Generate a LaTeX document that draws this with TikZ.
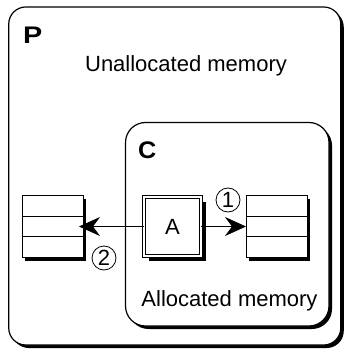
\documentclass[tikz,border=0pt]{standalone}
\usepackage{fontspec}
\setmainfont{Liberation Sans}
\usetikzlibrary{shadows,arrows.meta,calc}

\begin{document}
\begin{tikzpicture}[
    x=1pt, y=-1pt,
    every node/.style={font=\fontsize{22}{26}\selectfont, inner sep=0pt, outer sep=0pt},
    shadowed/.style={drop shadow={shadow xshift=#1, shadow yshift=-#1, fill=black, opacity=1}},
    shadowed/.default=3pt,
    region/.style={draw, fill=white, line width=1.2pt, rounded corners=#1, shadowed},
    stack/.style={draw, fill=white, line width=1pt, minimum width=61pt, minimum height=62pt, shadowed},
    num/.style={circle, draw, line width=0.8pt, minimum size=24pt, font=\fontsize{22}{22}\selectfont},
    title/.style={anchor=base west, font=\fontsize{24}{28}\selectfont\bfseries},
    >={Stealth[length=21pt, width=19pt, inset=7pt]},
]
\useasboundingbox (0,0) rectangle (347,352);

% Regions
\node[region=17pt, minimum width=332pt, minimum height=338pt] (proc) at (174.75,176) {};
\node[region=20pt, minimum width=203.5pt, minimum height=203.5pt] (child) at (227.25,224.25) {};

% Region names and texts
\node[title] (pname) at (23,43.5) {\scalebox{1.2}[1]{P}};
\node[title] (cname) at (138,158.5) {\scalebox{1.05}[1]{C}};
\node[anchor=base] (unalloc) at (186,72) {Unallocated memory};
\node[anchor=base] (alloc) at (229.5,306) {Allocated memory};

% Object and stacks
\node[draw, fill=white, double, double distance=1.8pt, line width=0.9pt,
      minimum width=57.4pt, minimum height=59pt, shadowed=4.8pt] (A) at (172.5,226.5) {A};
\node[stack] (stackL) at (52.5,226.5) {};
\node[stack] (stackR) at (276.5,226.5) {};
\foreach \s in {stackL, stackR} {
    \foreach \f in {1,2} {
        \draw[line width=1pt] ($(\s.north west)!\f/3!(\s.south west)$) -- ($(\s.north east)!\f/3!(\s.south east)$);
    }
}

% References
\draw[->, line width=0.8pt] (A.east) -- (stackR.west);
\draw[->, line width=0.8pt, shorten >=-4pt] (A.west) -- (stackL.east);
\node[num] (one) at (228,200) {1};
\node[num] (two) at (104,258) {2};

\end{tikzpicture}
\end{document}
